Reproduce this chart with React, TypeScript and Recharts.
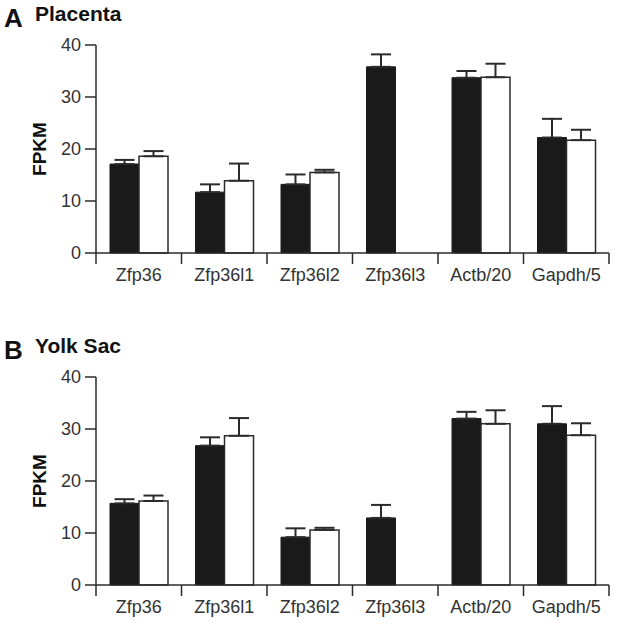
import React from 'react'
import { BarChart, Bar, XAxis, YAxis, ErrorBar } from 'recharts'

const genes = ['Zfp36', 'Zfp36l1', 'Zfp36l2', 'Zfp36l3', 'Actb/20', 'Gapdh/5']

// Placenta
const placentaBlack    = [17.1, 11.7, 13.2, 35.8, 33.7, 22.2]
const placentaBlackErr = [0.8, 1.5, 1.9, 2.4, 1.3, 3.6]
const placentaWhite    = [18.6, 13.9, 15.5, null, 33.8, 21.7]
const placentaWhiteErr = [1.0, 3.3, 0.5, null, 2.6, 2.0]

// Yolk sac
const yolkBlack    = [15.7, 26.8, 9.2, 12.9, 32.0, 31.0]
const yolkBlackErr = [0.8, 1.6, 1.7, 2.5, 1.3, 3.4]
const yolkWhite    = [16.15, 28.7, 10.6, null, 31.0, 28.8]
const yolkWhiteErr = [1.05, 3.4, 0.4, null, 2.6, 2.3]

const yTicks = [0, 10, 20, 30, 40]

const FONT = '"Liberation Sans", Arial, Helvetica, sans-serif'
const INK  = '#2b2b2b'

function buildRows(black: (number | null)[], blackErr: (number | null)[], white: (number | null)[], whiteErr: (number | null)[]) {
  return genes.map((g, i) => ({
    gene:     g,
    black:    black[i],
    blackErr: blackErr[i] == null ? null : [0, blackErr[i]],
    white:    white[i],
    whiteErr: whiteErr[i] == null ? null : [0, whiteErr[i]],
  }))
}

// category tick: label in the middle, tick mark on the band edges
function EdgeTick(props: any) {
  const { x, y, payload, index, visibleTicksCount } = props
  const half = payload && payload.offset ? payload.offset : 42.75
  const last = index === (visibleTicksCount ?? genes.length) - 1
  return (
    <g>
      <line x1={x - half} y1={y} x2={x - half} y2={y + 11} stroke={INK} strokeWidth={1.5} />
      {last && <line x1={x + half} y1={y} x2={x + half} y2={y + 11} stroke={INK} strokeWidth={1.5} />}
      <text x={x} y={y + 28} textAnchor="middle" fontSize={18} fill="#333" fontFamily={FONT}>
        {payload.value}
      </text>
    </g>
  )
}

function Panel({ letter, title, rows }: { letter: string; title: string; rows: any[] }) {
  return (
    <div style={{ position: 'relative', width: 618, height: 332 }}>
      <div style={{ position: 'absolute', left: 4, top: 5, fontFamily: FONT, fontWeight: 700, fontSize: 26, lineHeight: '26px', color: '#111' }}>
        {letter}
      </div>
      <div style={{ position: 'absolute', left: 35, top: 3, fontFamily: FONT, fontWeight: 700, fontSize: 21, lineHeight: '21px', color: '#111' }}>
        {title}
      </div>
      <div style={{ position: 'absolute', left: 0, top: 0 }}>
        <BarChart
          width={618}
          height={300}
          data={rows}
          margin={{ top: 45, right: 9, left: 56, bottom: 17 }}
          barCategoryGap={14}
          barGap={0}
        >
          <XAxis
            dataKey="gene"
            height={30}
            stroke={INK}
            strokeWidth={1.5}
            tickLine={false}
            tickSize={0}
            tickMargin={0}
            interval={0}
            tick={<EdgeTick />}
          />
          <YAxis
            width={40}
            domain={[0, 40]}
            ticks={yTicks}
            interval={0}
            stroke={INK}
            strokeWidth={1.5}
            tickSize={11}
            tickMargin={4}
            tick={{ fontSize: 18, fill: '#333', fontFamily: FONT }}
            label={{
              content: () => (
                <text
                  x={46}
                  y={149}
                  transform="rotate(-90 46 149)"
                  textAnchor="middle"
                  fontSize={19}
                  fontWeight={700}
                  fill="#111"
                  fontFamily={FONT}
                >
                  FPKM
                </text>
              ),
            }}
          />
          <Bar dataKey="black" fill="#1a1a1a" stroke="#1a1a1a" strokeWidth={1} isAnimationActive={false}>
            <ErrorBar dataKey="blackErr" direction="y" width={10} stroke={INK} strokeWidth={2} isAnimationActive={false} />
          </Bar>
          <Bar dataKey="white" fill="#ffffff" stroke={INK} strokeWidth={1.5} isAnimationActive={false}>
            <ErrorBar dataKey="whiteErr" direction="y" width={10} stroke={INK} strokeWidth={2} isAnimationActive={false} />
          </Bar>
        </BarChart>
      </div>
    </div>
  )
}

export default function App() {
  const placenta = buildRows(placentaBlack, placentaBlackErr, placentaWhite, placentaWhiteErr)
  const yolk     = buildRows(yolkBlack, yolkBlackErr, yolkWhite, yolkWhiteErr)
  return (
    <div style={{ position: 'absolute', left: 0, top: 0, width: 618, height: 625, background: '#fff', overflow: 'hidden' }}>
      <Panel letter="A" title="Placenta" rows={placenta} />
      <Panel letter="B" title="Yolk Sac" rows={yolk} />
    </div>
  )
}
